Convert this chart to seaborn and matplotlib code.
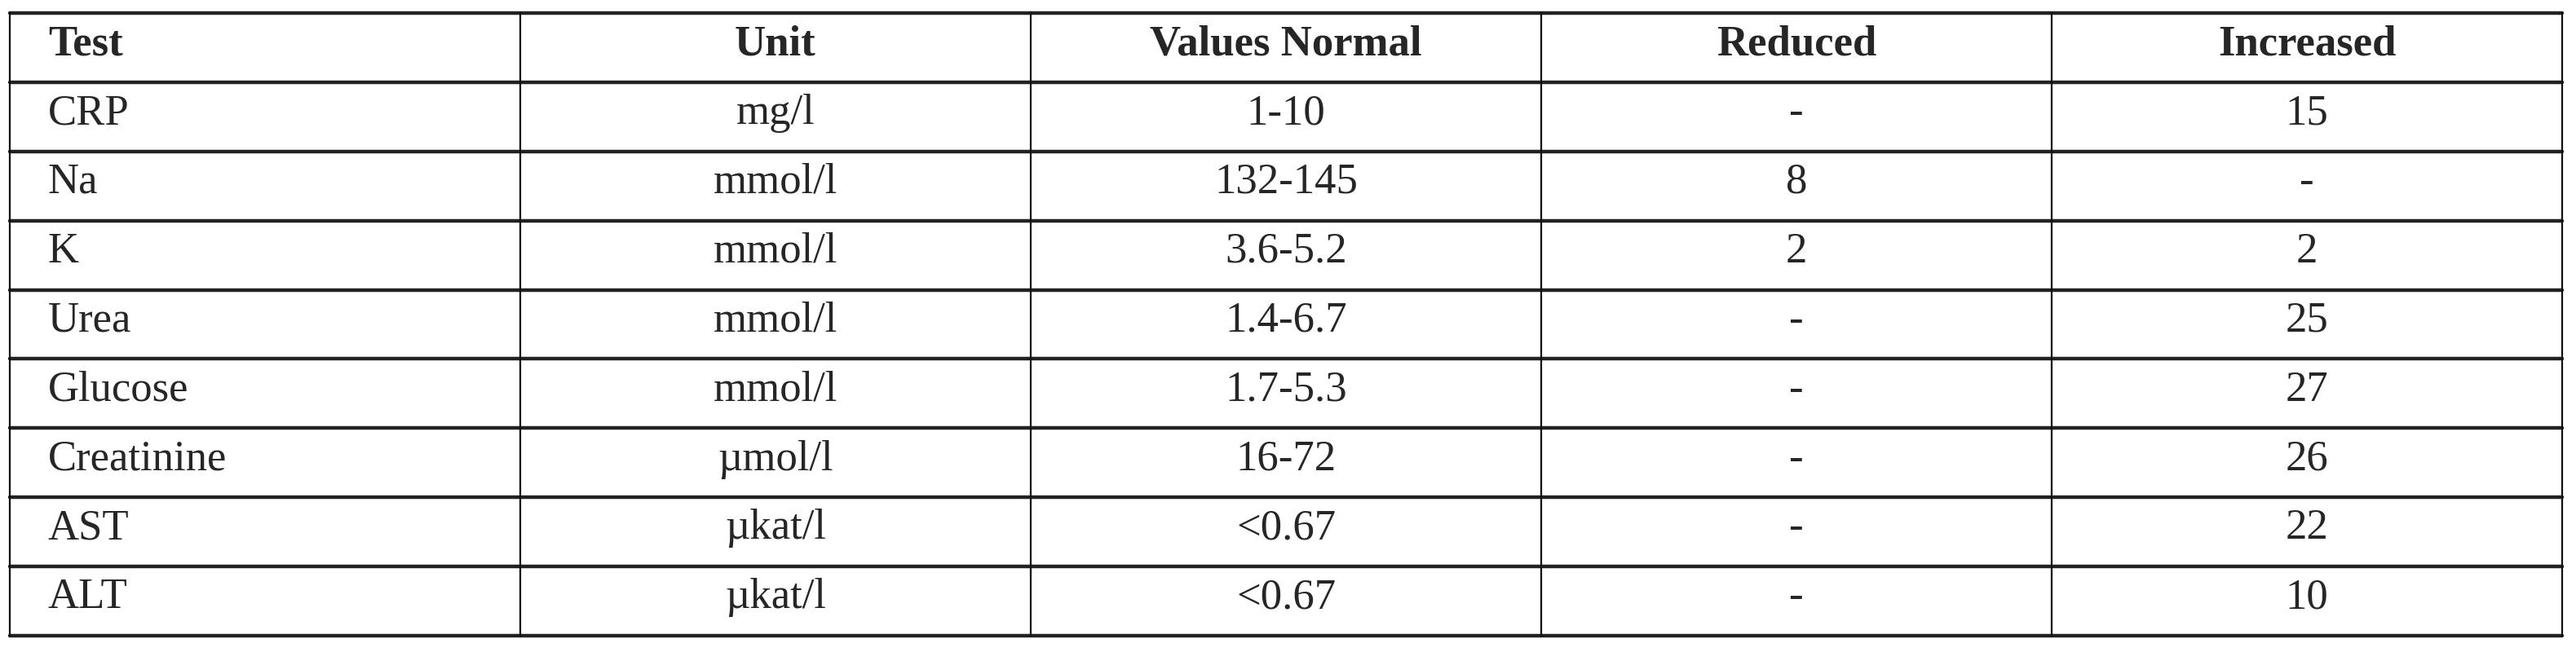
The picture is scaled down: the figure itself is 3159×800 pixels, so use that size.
import matplotlib
matplotlib.use('Agg')
import matplotlib.pyplot as plt
import seaborn as sns

# Table content
headers = ['Test', 'Unit', 'Values Normal', 'Reduced', 'Increased']
tests = ['CRP', 'Na', 'K', 'Urea', 'Glucose', 'Creatinine', 'AST', 'ALT']
units = ['mg/l', 'mmol/l', 'mmol/l', 'mmol/l', 'mmol/l', 'µmol/l', 'µkat/l', 'µkat/l']
normal = ['1-10', '132-145', '3.6-5.2', '1.4-6.7', '1.7-5.3', '16-72', '<0.67', '<0.67']
reduced = ['-', '8', '2', '-', '-', '-', '-', '-']
increased = ['15', '-', '2', '25', '27', '26', '22', '10']

sns.set_theme(style='white')
plt.rcParams['font.family'] = ['Liberation Serif', 'DejaVu Serif']

fig = plt.figure(figsize=(31.59, 8), dpi=100)
W, H = 3159, 800
ax = fig.add_axes([12 / W, 1 - 780 / H, (3142 - 12) / W, (780 - 16) / H])
n_rows = len(tests) + 1
n_cols = len(headers)
ax.set_xlim(0, n_cols)
ax.set_ylim(n_rows, 0)
ax.axis('off')

# horizontal rules (thick) and vertical rules (thin)
for r in range(n_rows + 1):
    ax.axhline(r, color='#222222', lw=3.2, clip_on=False)
for c in range(n_cols + 1):
    ax.axvline(c, color='#111111', lw=1.6, clip_on=False)

columns = [tests, units, normal, reduced, increased]
fs = 38
for c, h in enumerate(headers):
    if c == 0:
        ax.text(c + 0.075, 0.45, h, ha='left', va='center', fontsize=fs, fontweight='bold')
    else:
        ax.text(c + 0.5, 0.45, h, ha='center', va='center', fontsize=fs, fontweight='bold')

for c, col in enumerate(columns):
    for r, val in enumerate(col):
        y = r + 1.45
        if c == 0:
            ax.text(c + 0.075, y, val, ha='left', va='center', fontsize=fs)
        else:
            ax.text(c + 0.5, y, val, ha='center', va='center', fontsize=fs)

fig.savefig('out.png', dpi=100, facecolor='white')
